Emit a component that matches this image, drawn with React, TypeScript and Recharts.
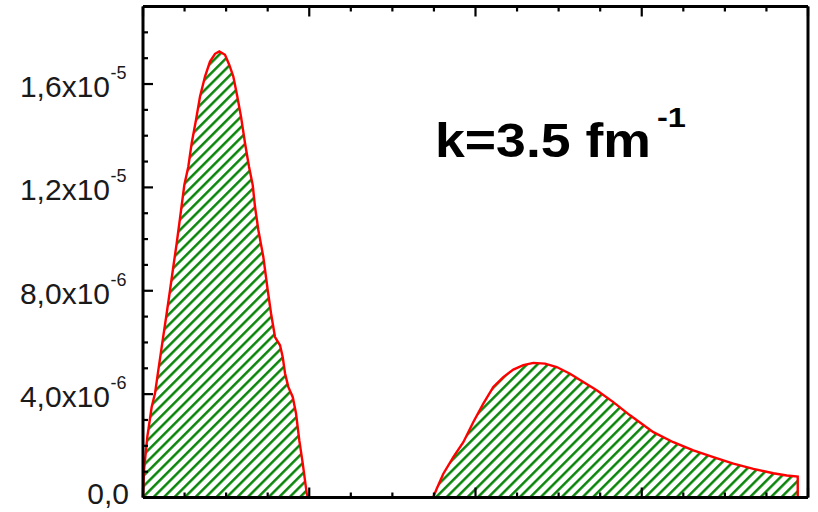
import React from 'react';
import { ComposedChart, Area, XAxis, YAxis } from 'recharts';

// Sampled profile: position along the axis and value
const xs = [
  0, 0.024, 0.103, 0.209, 0.289, 0.368, 0.474, 0.57, 0.65, 0.729, 0.811, 0.907, 0.994,
  1.09, 1.172, 1.275, 1.372, 1.492, 1.612, 1.733, 1.836, 1.973, 2.077, 2.173, 2.269,
  2.358, 2.454, 2.551, 2.64, 2.695, 2.775, 2.895, 3.001, 3.08, 3.176, 3.297, 3.361,
  3.417, 3.496, 3.602, 3.681, 3.761, 3.843, 3.939, 3.97,
  6.98, 7.067, 7.226, 7.466, 7.707, 7.948, 8.188, 8.429, 8.669, 8.91, 9.151, 9.391,
  9.673, 9.954, 10.274, 10.594, 10.917, 11.316, 11.718, 12.279, 12.76, 13.241, 13.722,
  14.204, 14.685, 15.166, 15.488, 15.753, 15.753,
];

const ys = [
  0, 1.05e-6, 2.34e-6, 3.5e-6, 4.03e-6, 4.92e-6, 6.09e-6, 7.13e-6, 8.02e-6, 8.93e-6,
  9.84e-6, 1.101e-5, 1.209e-5, 1.28e-5, 1.372e-5, 1.461e-5, 1.552e-5, 1.629e-5,
  1.687e-5, 1.717e-5, 1.726e-5, 1.713e-5, 1.674e-5, 1.629e-5, 1.552e-5, 1.474e-5,
  1.372e-5, 1.28e-5, 1.209e-5, 1.125e-5, 1.035e-5, 9.31e-6, 8.02e-6, 7.13e-6, 6.21e-6,
  5.89e-6, 5.44e-6, 4.81e-6, 4.28e-6, 3.89e-6, 3.26e-6, 2.21e-6, 1.32e-6, 1.6e-7, 0,
  0, 3.4e-7, 9.2e-7, 1.56e-6, 2.14e-6, 2.92e-6, 3.63e-6, 4.28e-6, 4.66e-6, 4.95e-6,
  5.12e-6, 5.21e-6, 5.18e-6, 5.05e-6, 4.79e-6, 4.47e-6, 4.15e-6, 3.69e-6, 3.18e-6,
  2.53e-6, 2.14e-6, 1.82e-6, 1.56e-6, 1.31e-6, 1.11e-6, 9.4e-7, 8.5e-7, 8.1e-7, 0,
];

const xTicks = [0, 1, 2, 3, 4, 5, 6, 7, 8, 9, 10, 11, 12, 13, 14, 15, 16];
const xMajor = [0, 4, 8, 12, 16];

const yTicks = [
  0, 1e-6, 2e-6, 3e-6, 4e-6, 5e-6, 6e-6, 7e-6, 8e-6, 9e-6, 1e-5, 1.1e-5, 1.2e-5,
  1.3e-5, 1.4e-5, 1.5e-5, 1.6e-5, 1.7e-5, 1.8e-5, 1.9e-5,
];
const yLabelValues = [0, 4e-6, 8e-6, 1.2e-5, 1.6e-5];
const yLabelText = ['0,0', '4,0x10', '8,0x10', '1,2x10', '1,6x10'];
const yLabelExp = ['', '-6', '-6', '-5', '-5'];

const annotation = 'k=3.5 fm';
const annotationExp = '-1';

const data = xs.map((x, i) => ({ x, y: ys[i] }));

const FONT = '"Liberation Sans", Arial, sans-serif';
const MAJOR = 10;
const MINOR = 5;
const TICK_W = 2.2;

const labelIndex = (v: number) =>
  yLabelValues.findIndex((lv) => Math.abs(lv - v) < 1e-9);

const XTick = (dir: number) => (props: any) => {
  const { x, y, payload } = props;
  const len = xMajor.includes(payload.value) ? MAJOR : MINOR;
  return <line x1={x} x2={x} y1={y} y2={y + dir * len} stroke="#000" strokeWidth={TICK_W} />;
};

const YLeftTick = (props: any) => {
  const { x, y, payload } = props;
  const idx = labelIndex(payload.value);
  const len = idx >= 0 ? MAJOR : MINOR;
  const exp = idx >= 0 ? yLabelExp[idx] : '';
  const baseline = Math.min(y + 13, 504);
  return (
    <g>
      <line x1={x} x2={x + len} y1={y} y2={y} stroke="#000" strokeWidth={TICK_W} />
      {idx >= 0 && (
        <text
          x={exp ? 110 : 129}
          y={baseline}
          textAnchor="end"
          fontFamily={FONT}
          fontSize={30}
          fill="#1a1a1a"
        >
          {yLabelText[idx]}
        </text>
      )}
      {idx >= 0 && exp && (
        <text x={110.5} y={baseline - 18} fontFamily={FONT} fontSize={18} fill="#1a1a1a">
          {exp}
        </text>
      )}
    </g>
  );
};

const YRightTick = (props: any) => {
  const { x, y, payload } = props;
  const len = labelIndex(payload.value) >= 0 ? MAJOR : MINOR;
  return <line x1={x} x2={x - len} y1={y} y2={y} stroke="#000" strokeWidth={TICK_W} />;
};

const axisLine = { stroke: '#000', strokeWidth: 3 };

export default function App() {
  return (
    <div style={{ position: 'absolute', left: 0, top: 0, background: '#fff' }}>
      <ComposedChart
        width={818}
        height={512}
        data={data}
        margin={{ top: 6.5, right: 10, bottom: 14.5, left: 143 }}
      >
        <defs>
          <pattern
            id="hatch"
            width={7.4}
            height={7.4}
            patternUnits="userSpaceOnUse"
            patternTransform="rotate(45)"
          >
            <line x1={1.3} y1={0} x2={1.3} y2={7.4} stroke="#008000" strokeWidth={2.4} />
          </pattern>
        </defs>
        <XAxis
          xAxisId="b"
          dataKey="x"
          type="number"
          domain={[0, 16]}
          ticks={xTicks}
          interval={0}
          orientation="bottom"
          mirror
          axisLine={axisLine}
          tickLine={false}
          tickSize={0}
          tickMargin={0}
          tick={XTick(-1)}
        />
        <XAxis
          xAxisId="t"
          dataKey="x"
          type="number"
          domain={[0, 16]}
          ticks={xTicks}
          interval={0}
          orientation="top"
          mirror
          axisLine={axisLine}
          tickLine={false}
          tickSize={0}
          tickMargin={0}
          tick={XTick(1)}
        />
        <YAxis
          yAxisId="l"
          type="number"
          domain={[0, 1.9e-5]}
          ticks={yTicks}
          interval={0}
          orientation="left"
          mirror
          axisLine={axisLine}
          tickLine={false}
          tickSize={0}
          tickMargin={0}
          tick={YLeftTick}
        />
        <YAxis
          yAxisId="r"
          type="number"
          domain={[0, 1.9e-5]}
          ticks={yTicks}
          interval={0}
          orientation="right"
          mirror
          axisLine={axisLine}
          tickLine={false}
          tickSize={0}
          tickMargin={0}
          tick={YRightTick}
        />
        <Area
          xAxisId="b"
          yAxisId="l"
          dataKey="y"
          type="linear"
          stroke="#ff0000"
          strokeWidth={2.4}
          fill="url(#hatch)"
          fillOpacity={1}
          dot={false}
          activeDot={false}
          isAnimationActive={false}
        />
        <text
          x={435}
          y={157}
          fontFamily={FONT}
          fontWeight="bold"
          fontSize={49}
          fill="#000"
          textLength={216}
          lengthAdjust="spacingAndGlyphs"
        >
          {annotation}
        </text>
        <text
          x={657}
          y={127}
          fontFamily={FONT}
          fontWeight="bold"
          fontSize={27}
          fill="#000"
          textLength={29}
          lengthAdjust="spacingAndGlyphs"
        >
          {annotationExp}
        </text>
      </ComposedChart>
    </div>
  );
}
